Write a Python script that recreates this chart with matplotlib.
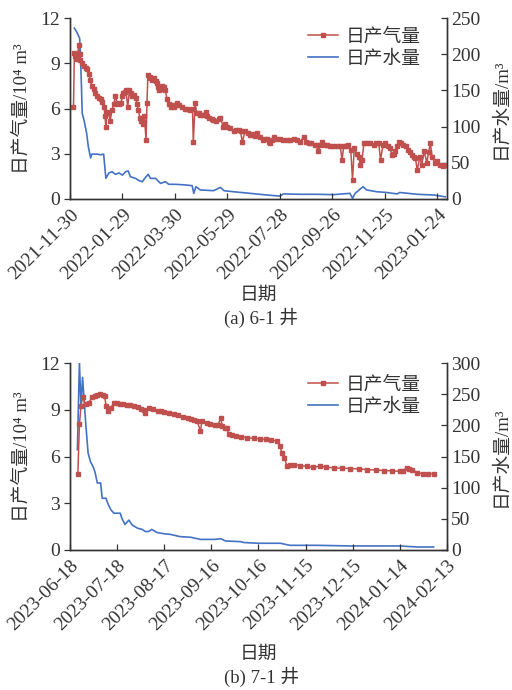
import matplotlib
matplotlib.use("Agg")
import matplotlib.pyplot as plt
import numpy as np
import pandas as pd

plt.rcParams['font.family'] = ['Liberation Serif', 'Noto Sans CJK SC']

# ---------------- (a) well 6-1 ----------------
start_a = "2021-11-30"
end_a = "2023-02-04"
ticks_a = ["2021-11-30", "2022-01-29", "2022-03-30", "2022-05-29", "2022-07-28",
           "2022-09-26", "2022-11-25", "2023-01-24"]
gas_day_a = [4, 5, 6, 8, 10, 11, 12, 14, 16, 18, 20, 22, 23, 25, 27, 29, 31, 33, 35, 37, 39, 40,
             41, 42, 44, 46, 48, 50, 52, 54, 56, 58, 60, 61, 63, 64, 66, 68, 70, 71, 73, 75, 77,
             78, 80, 81, 83, 84, 85, 87, 88, 89, 91, 92, 94, 96, 98, 99, 101, 102, 104, 105, 107,
             109, 111, 113, 115, 117, 119, 121, 122, 125, 128, 131, 134, 137, 140, 141, 143, 145,
             147, 149, 152, 155, 157, 159, 162, 164, 167, 170, 172, 175, 177, 180, 183, 187, 190,
             193, 195, 197, 200, 203, 206, 209, 212, 214, 217, 221, 223, 225, 227, 229, 231, 233,
             236, 240, 244, 248, 252, 256, 260, 263, 267, 270, 273, 276, 280, 282, 284, 286, 288,
             291, 294, 297, 301, 305, 309, 311, 313, 316, 318, 321, 323, 325, 328, 330, 332, 334,
             336, 339, 343, 347, 350, 353, 355, 358, 360, 364, 366, 368, 370, 372, 374, 376, 379,
             381, 384, 387, 389, 391, 393, 395, 397, 400, 402, 405, 408, 410, 412, 414, 417, 420,
             423, 426, 429]
gas_a = [6.1, 9.7, 9.5, 9.3, 10.2, 9.6, 9.2, 9.0, 8.8, 8.7, 8.6, 8.3, 7.9, 7.5, 7.3, 7.0, 6.8,
         6.7, 6.6, 6.4, 6.1, 5.5, 4.8, 5.8, 5.7, 5.2, 5.9, 6.3, 6.8, 6.35, 6.3, 6.35, 6.8, 7.0,
         7.1, 7.2, 6.1, 7.2, 7.0, 6.8, 6.9, 6.7, 6.3, 5.9, 5.4, 5.2, 5.1, 5.0, 5.5, 3.9, 6.35,
         8.2, 8.1, 8.0, 7.9, 8.0, 7.8, 7.7, 7.4, 7.2, 7.3, 7.5, 7.4, 7.2, 6.6, 6.3, 6.1, 6.2, 6.1,
         6.2, 6.35, 6.2, 6.1, 6.0, 6.0, 5.9, 6.0, 3.75, 6.35, 5.7, 5.7, 5.6, 5.6, 5.8, 5.5, 5.4,
         5.3, 5.25, 5.2, 5.3, 5.4, 4.8, 5.0, 4.8, 4.7, 4.5, 4.6, 4.6, 4.5, 3.75, 4.5, 4.4, 4.25,
         4.3, 4.2, 4.4, 4.1, 3.9, 4.0, 4.0, 3.8, 3.7, 3.9, 4.1, 4.0, 4.0, 3.9, 3.9, 3.9, 4.0, 3.9,
         3.8, 4.1, 3.8, 3.7, 3.7, 3.6, 3.6, 3.15, 3.6, 3.8, 3.6, 3.6, 3.5, 3.5, 3.5, 3.5, 2.6,
         3.5, 3.5, 3.6, 3.25, 1.25, 3.4, 3.0, 2.8, 2.25, 2.6, 3.7, 3.7, 3.7, 3.6, 3.7, 3.7, 2.6,
         3.6, 3.7, 3.5, 3.4, 2.9, 3.0, 3.15, 3.5, 3.8, 3.7, 3.6, 3.5, 3.25, 3.1, 2.9, 2.8, 2.7,
         1.9, 2.8, 2.25, 3.15, 2.4, 3.1, 3.7, 2.8, 2.4, 2.5, 2.25, 2.2, 2.25]
water_day_a = [5, 8, 11, 12, 14, 16, 19, 21, 23.6, 25, 31, 35, 38.5, 41, 44.5, 48, 52, 56, 60,
               63.6, 66.6, 69, 75, 79, 82.6, 86.4, 89.5, 92, 97.8, 103.5, 109, 113, 120.7, 132,
               139.7, 141.5, 144, 149, 164, 172, 176, 187, 206, 225, 240, 244, 263, 282, 301,
               320, 323, 326, 335, 339, 351, 362, 374, 377, 397, 416, 429]
water_a = [236, 230, 222, 200, 118, 109, 91, 72, 56.7, 62, 62, 61, 62, 28.6, 36, 37.7, 34, 36,
           33, 37.7, 38.7, 30.8, 28.5, 25.3, 23.9, 30, 34, 28.5, 28.5, 21.6, 23.9, 20.3, 20.3,
           19.4, 18.4, 7.8, 17, 12.5, 11.5, 16, 11.5, 10, 7.8, 5.5, 4, 7, 6.5, 6.5, 6, 7.8, 1,
           7.8, 17, 12.5, 10, 9, 7, 9, 6.5, 5.5, 3]

# ---------------- (b) well 7-1 ----------------
start_b = "2023-06-18"
end_b = "2024-02-13"
ticks_b = ["2023-06-18", "2023-07-18", "2023-08-17", "2023-09-16", "2023-10-16",
           "2023-11-15", "2023-12-15", "2024-01-14", "2024-02-13"]
gas_day_b = [5, 6, 7, 8, 10, 12, 14, 16, 17, 19, 21, 22, 23, 24, 26, 28, 30, 32, 34, 36, 38,
             41, 43, 45, 47, 48, 50, 53, 56, 58, 60, 63, 66, 69, 72, 75, 77, 79, 81, 83, 84, 87,
             89, 92, 94, 96, 97, 99, 100, 101, 103, 106, 109, 113, 117, 121, 125, 128, 132,
             133.5, 135, 136.5, 138, 140, 142.5, 146.7, 151, 155, 159, 163, 168, 173, 178.5,
             184, 189, 195, 200, 205, 210, 212, 214.5, 216, 218, 221, 225, 228, 231.5]
gas_b = [4.88, 8.06, 9.25, 9.8, 9.35, 9.46, 9.8, 9.9, 9.94, 10.0, 9.95, 9.9, 9.25, 8.9, 9.14,
         9.42, 9.42, 9.4, 9.36, 9.31, 9.28, 9.25, 9.2, 9.08, 9.0, 8.82, 9.14, 9.03, 8.95, 8.9,
         8.86, 8.8, 8.71, 8.65, 8.56, 8.48, 8.39, 8.33, 8.28, 7.63, 8.25, 8.17, 8.1, 8.0, 8.0,
         8.45, 7.95, 7.85, 7.8, 7.46, 7.4, 7.31, 7.27, 7.2, 7.17, 7.14, 7.1, 7.05, 6.99, 6.67,
         6.24, 5.91, 5.42, 5.45, 5.48, 5.42, 5.36, 5.31, 5.38, 5.32, 5.27, 5.25, 5.23, 5.2, 5.16,
         5.13, 5.1, 5.08, 5.05, 5.1, 5.27, 5.22, 5.16, 4.95, 4.9, 4.9, 4.9]
water_day_b = [4.7, 6, 7, 8, 10, 11.5, 13, 15, 16, 17.4, 19.5, 20.5, 23, 24, 26, 28, 32, 33, 35,
               37.5, 39.6, 43, 46, 48, 50, 52, 55.5, 60, 64, 70, 77, 83, 92, 96, 99, 108.5,
               110.7, 120, 134, 140, 157, 168, 178.5, 189, 210, 221, 231.5]
water_b = [161, 301, 230, 277, 204, 156, 142, 132, 124, 107.5, 107.5, 83, 83, 75, 64.5, 59, 59,
           51, 41, 48, 40, 35, 33, 29.6, 29.6, 33, 28, 26, 25, 21.5, 20.4, 17, 17, 18, 14.5, 13.4,
           12, 10.8, 10.8, 7.5, 7.5, 7, 6.5, 6.5, 6.5, 4.8, 4.8]

RED = '#C0504D'
BLUE = '#4472C4'
TXT = '#333333'
FS_TICK = 14
FS_LAB = 13.5


def to_dates(start, days):
    return pd.Timestamp(start) + pd.to_timedelta(np.asarray(days, dtype=float), unit='D')


def panel(rect, start, end, ticks, gd, gv, wd, wv, wmax, xpad, leg_y):
    ax = fig.add_axes(rect)
    ax2 = ax.twinx()
    ax.set_zorder(ax2.get_zorder() + 1)
    ax.patch.set_visible(False)
    lg, = ax.plot(to_dates(start, gd), gv, color=RED, lw=1.1, marker='s', ms=2.6,
                  mec=RED, mfc=RED, label='日产气量')
    lw, = ax2.plot(to_dates(start, wd), wv, color=BLUE, lw=1.2, label='日产水量')
    ax.set_ylim(0, 12)
    ax.set_yticks([0, 3, 6, 9, 12])
    ax2.set_ylim(0, wmax)
    ax2.set_yticks(np.arange(0, wmax + 1, 50))
    ax.set_xlim(pd.Timestamp(start), pd.Timestamp(end))
    ax.set_xticks([pd.Timestamp(t) for t in ticks])
    ax.set_xticklabels(ticks, rotation=45, ha='right', rotation_mode='anchor')
    for a in (ax, ax2):
        a.spines['top'].set_visible(False)
        for s in a.spines.values():
            s.set_color(TXT)
            s.set_linewidth(1.0)
        a.tick_params(length=4, width=0.9, colors=TXT, labelsize=FS_TICK)
    ax.tick_params(axis='x', direction='in', pad=5)
    ax.tick_params(axis='y', direction='out', pad=3)
    ax2.tick_params(axis='y', direction='in', pad=3)
    ax.set_ylabel('日产气量/10⁴ m³', fontsize=FS_LAB, color=TXT, labelpad=7)
    ax2.set_ylabel('日产水量/m³', fontsize=FS_LAB, color=TXT, labelpad=8)
    ax.set_xlabel('日期', fontsize=FS_LAB, color=TXT, labelpad=xpad)
    leg = ax.legend(handles=[lg, lw], loc='upper right', frameon=False, fontsize=FS_LAB,
                    handlelength=1.6, handletextpad=0.4, borderaxespad=0.0,
                    labelspacing=0.25, bbox_to_anchor=(0.95, leg_y))
    for t in leg.get_texts():
        t.set_color(TXT)
    return ax


fig = plt.figure(figsize=(5.12, 6.9), dpi=100)
panel([0.1367, 0.7116, 0.7363, 0.2623], start_a, end_a, ticks_a,
      gas_day_a, gas_a, water_day_a, water_a, 250, 3, 0.985)
panel([0.1367, 0.2029, 0.7363, 0.2710], start_b, end_b, ticks_b,
      gas_day_b, gas_b, water_day_b, water_b, 300, 9, 0.97)
fig.text(0.51, 1 - 318 / 690, '(a) 6-1 井', ha='center', va='center', fontsize=FS_LAB, color=TXT)
fig.text(0.51, 1 - 677 / 690, '(b) 7-1 井', ha='center', va='center', fontsize=FS_LAB, color=TXT)

fig.savefig('out.png', dpi=100)
